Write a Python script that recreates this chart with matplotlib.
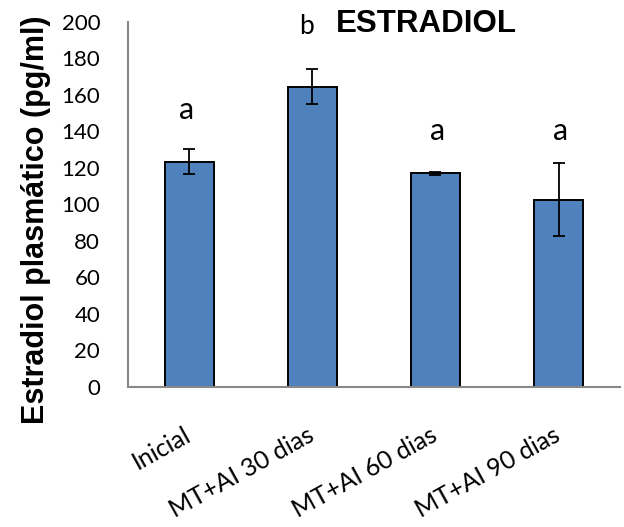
import matplotlib
matplotlib.use("Agg")
import matplotlib.pyplot as plt
from matplotlib.transforms import ScaledTranslation
import numpy as np

categories = ["Inicial", "MT+AI 30 dias", "MT+AI 60 dias", "MT+AI 90 dias"]
means = [123.5, 164.5, 117.0, 102.5]
errors = [7.0, 9.5, 1.0, 20.0]
letters = ["a", "b", "a", "a"]
letter_y = [151.8, 197.3, 140.3, 140.3]
yticks = [0, 20, 40, 60, 80, 100, 120, 140, 160, 180, 200]

# small horizontal nudges and sizes for the significance letters
letter_dx = [-0.02, -0.05, 0.02, 0.02]
letter_size = [22, 19, 22, 22]

fig = plt.figure(figsize=(6.24, 5.27), dpi=100)
ax = fig.add_axes([0.2051, 0.2657, 0.7885, 0.6926])

x = np.arange(len(categories))
ax.bar(x, means, width=0.4, color="#4F81BD", edgecolor="black", linewidth=1.4, zorder=2)
ax.errorbar(x, means, yerr=errors, fmt="none", ecolor="black",
            elinewidth=1.3, capsize=4.5, capthick=1.3, zorder=3)

for xi, dx, lab, ly, fs in zip(x, letter_dx, letters, letter_y, letter_size):
    ax.text(xi + dx, ly, lab, ha="center", va="center", fontsize=fs,
            family="Lato", color="black")

ax.set_xlim(-0.5, 3.5)
ax.set_ylim(0, 200)
ax.set_yticks(yticks)
ax.set_yticklabels([str(t) for t in yticks], family="Lato", fontsize=16)
ax.set_xticks(x)
ax.set_xticklabels(categories, family="Lato", fontsize=18, rotation=29,
                   ha="right", va="baseline", rotation_mode="anchor")
ax.tick_params(axis="y", length=0, pad=20)
ax.tick_params(axis="x", length=0, pad=38)
shift = ScaledTranslation(3 / 100, 0, fig.dpi_scale_trans)
for lbl in ax.get_xticklabels():
    lbl.set_transform(lbl.get_transform() + shift)

for s in ["top", "right"]:
    ax.spines[s].set_visible(False)
for s in ["left", "bottom"]:
    ax.spines[s].set_color("#888888")
    ax.spines[s].set_linewidth(1.5)

fig.text(0.057, 0.583, "Estradiol plasmático (pg/ml)", rotation=90,
         ha="center", va="center", fontsize=22, fontweight="bold",
         family="Liberation Sans")
fig.text(0.683, 0.939, "ESTRADIOL", ha="center", va="baseline",
         fontsize=22.5, fontweight="bold", family="Liberation Sans")

fig.savefig("out.png", dpi=100)
